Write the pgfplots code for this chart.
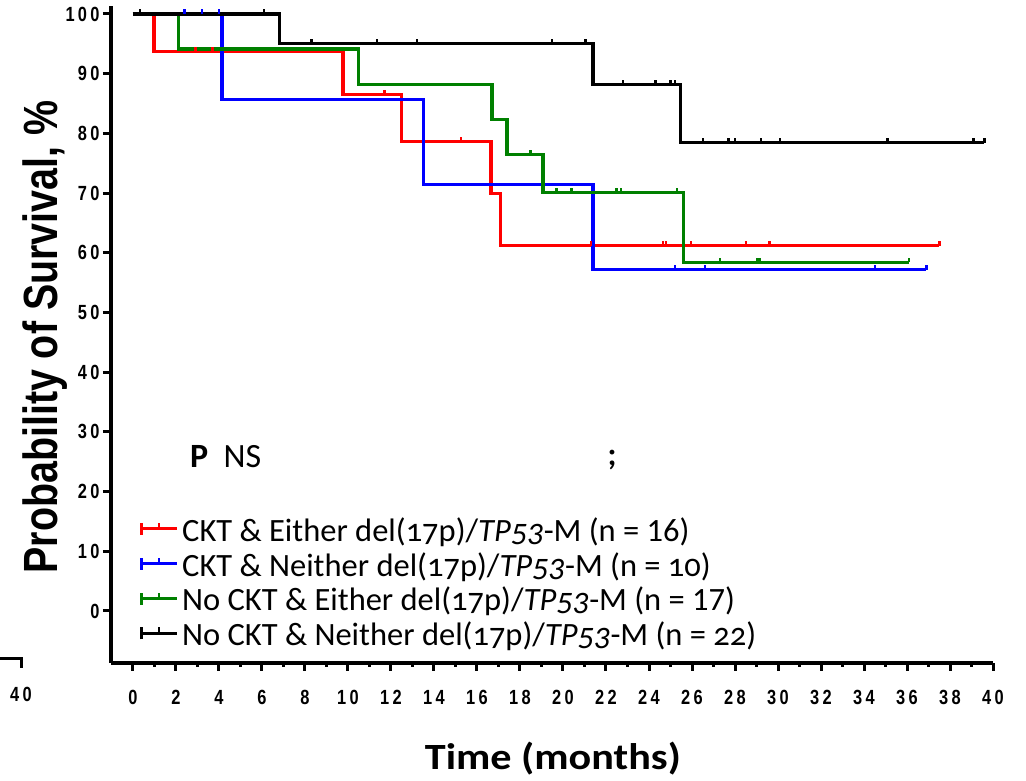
\documentclass[border=0pt]{standalone}
\usepackage{pgfplots}
\pgfplotsset{compat=1.18}
\usepackage{graphicx}
\usepackage{fontspec}
\setmainfont{Carlito}
\newfontfamily\narrowfont[FakeStretch=0.82]{Liberation Sans}
\newfontfamily\ticknarrow[FakeStretch=0.8,LetterSpace=16]{Liberation Sans}
\newcommand{\os}[1]{{\addfontfeatures{Numbers=OldStyle}#1}}
\newcommand{\legfont}{\fontsize{32.5}{36}\selectfont}
\newcommand{\tickfont}{\ticknarrow\bfseries\fontsize{20.5}{21}\selectfont}
\definecolor{kmred}{RGB}{255,0,0}
\definecolor{kmblue}{RGB}{0,0,255}
\definecolor{kmgreen}{RGB}{0,128,0}
\pgfdeclareplotmark{cens}{\pgfpathmoveto{\pgfpointorigin}\pgfpathlineto{\pgfpoint{0pt}{\pgfplotmarksize}}\pgfusepathqstroke}
\begin{document}
\begin{tikzpicture}
\path[use as bounding box] (-111pt,-118pt) rectangle (915pt,663pt);
\begin{axis}[
  at={(0pt,0pt)}, anchor=south west,
  scale only axis, width=882pt, height=657pt,
  xmin=-1.023, xmax=40, ymin=-8.71, ymax=101.34,
  axis x line*=bottom, axis y line*=left,
  axis line style={line width=3.3pt, black},
  xtick={0,2,...,40}, ytick={0,10,...,100},
  minor x tick num=1,
  tick align=outside,
  major tick length=8pt, minor tick length=4pt,
  tick style={line width=3pt, black},
  ticklabel style={font=\tickfont},
  /pgf/number format/assume math mode=true,
  xticklabel style={anchor=center, yshift=-26pt},
  yticklabel style={anchor=east},
  clip=false,
  xlabel={\scalebox{1.14}[1]{\bfseries\fontsize{37}{39}\selectfont Time (months)}},
  xlabel style={at={(axis description cs:0.501,-0.146)}, anchor=center},
  ylabel={\narrowfont\bfseries\fontsize{48}{50}\selectfont Probability of Survival, \%},
  ylabel style={at={(axis description cs:-0.0748,0.496)}, anchor=center},
  legend cell align=left,
  legend image code/.code={
    \path (0pt,-6pt) -- (0pt,6pt);
    \draw[#1, line width=3pt] (0pt,0pt) -- (35pt,0pt);
    \draw[#1, line width=2.5pt] (17.5pt,0pt) -- (17.5pt,6pt);
  },
  legend style={at={(axis cs:0.33,16.75)}, anchor=north west, draw=none, fill=none,
    inner sep=0pt, outer sep=0pt, row sep=0pt, column sep=4pt, font=\legfont,
    nodes={inner sep=0pt, text height=30pt, text depth=5pt}},
]
% CKT & Either
\addplot[kmred, line width=3.2pt, const plot] coordinates {
 (0,100) (0.98,93.75) (9.77,86.54) (12.47,78.67) (16.65,69.93) (17.1,61.19) (37.5,61.19)};
\addlegendentry{CKT \& Either del(\os{17}p)/\textit{TP\os{53}}-M (n = 16)}
% CKT & Neither
\addplot[kmblue, line width=3.2pt, const plot] coordinates {
 (0,100) (4.14,85.71) (13.5,71.43) (21.4,57.14) (36.9,57.14)};
\addlegendentry{CKT \& Neither del(\os{17}p)/\textit{TP\os{53}}-M (n = \os{10})}
% No CKT & Either
\addplot[kmgreen, line width=3.2pt, const plot] coordinates {
 (0,100) (2.1,94.12) (10.5,88.24) (16.7,82.35) (17.4,76.47) (19.07,70.10) (25.6,58.42) (36.1,58.42)};
\addlegendentry{No CKT \& Either del(\os{17}p)/\textit{TP\os{53}}-M (n = 17)}
% No CKT & Neither
\addplot[black, line width=3.2pt, const plot] coordinates {
 (0,100) (6.8,95.0) (21.4,88.21) (25.45,78.41) (39.6,78.41)};
\addlegendentry{No CKT \& Neither del(\os{17}p)/\textit{TP\os{53}}-M (n = \os{22})}
% censor marks
\addplot[forget plot, only marks, mark=cens, mark size=4.5pt, kmred, line width=2.5pt] coordinates {
 (2.9,93.75) (3.7,93.75) (11.7,86.54) (15.26,78.67) (21.3,61.19) (24.65,61.19) (24.8,61.19)
 (25.95,61.19) (28.5,61.19) (29.6,61.19) (37.5,61.19)};
\addplot[forget plot, only marks, mark=cens, mark size=4.5pt, kmblue, line width=2.5pt] coordinates {
 (2.4,100) (3.2,100) (4.0,100) (25.2,57.14) (26.6,57.14) (34.5,57.14) (36.9,57.14)};
\addplot[forget plot, only marks, mark=cens, mark size=4.5pt, kmgreen, line width=2.5pt] coordinates {
 (18.5,76.47) (19.7,70.10) (20.4,70.10) (22.5,70.10) (22.7,70.10) (25.3,70.10)
 (27.3,58.42) (29.05,58.42) (29.15,58.42) (36.1,58.42)};
\addplot[forget plot, only marks, mark=cens, mark size=4.5pt, black, line width=2.5pt] coordinates {
 (0.33,100) (6.1,100) (8.3,95.0) (11.35,95.0) (13.2,95.0) (19.5,95.0) (21.05,95.0)
 (22.8,88.21) (24.3,88.21) (25.0,88.21) (25.2,88.21)
 (26.5,78.41) (27.7,78.41) (28.0,78.41) (29.2,78.41) (30.1,78.41) (35.1,78.41) (39.1,78.41) (39.6,78.41)};
\end{axis}
\node[anchor=base west, inner sep=0pt] at (79pt,195pt) {\fontsize{34}{36}\selectfont\textbf{P}\hspace{0.45em}NS};
\node[anchor=base, inner sep=0pt] at (501pt,197pt) {\legfont\bfseries ;};
\draw[line width=3pt] (-111pt,4pt) -- (-89pt,4pt) -- (-89pt,-5pt);
\node[anchor=center, inner sep=0pt] at (-90pt,-31pt) {\tickfont 40};
\end{tikzpicture}
\end{document}
